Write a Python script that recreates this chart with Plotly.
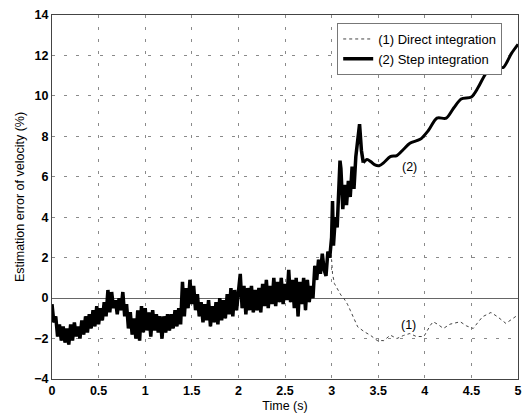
import plotly.graph_objects as go

# Shared response of both methods up to ~3 s (sampled every 0.02 s)
t_early = [round(0.02 * i, 2) for i in range(150)]
err_early = [
    -0.3, -1.2, -0.9, -1.9, -1.3, -2.1, -1.4, -2.2, -1.5, -2.3,
    -1.3, -2.1, -1.2, -1.9, -1.4, -2.0, -1.1, -1.8, -0.9, -1.7,
    -0.8, -1.5, -0.6, -1.4, -0.4, -1.3, -0.5, -1.1, -0.2, -0.9,
    0.4, -0.7, 0.3, -0.5, -0.1, -0.8, 0.0, -0.6, 0.3, -0.9,
    -0.3, -1.5, -0.7, -1.8, -1.0, -2.0, -0.6, -2.1, -0.4, -1.7,
    -0.5, -1.6, -0.7, -1.9, -0.6, -1.6, -0.8, -1.7, -0.9, -2.0,
    -0.9, -1.7, -0.8, -1.6, -0.8, -1.5, -0.6, -1.4, -0.5, -1.3,
    0.8, -0.9, 0.5, -0.5, 0.9, -0.3, 0.6, -0.6, 0.2, -0.9,
    -0.2, -1.2, -0.3, -1.1, -0.1, -1.4, -0.4, -1.2, -0.2, -1.3,
    0.0, -1.1, -0.1, -1.0, 0.2, -0.8, 0.5, -0.9, 0.4, -0.6,
    0.3, 1.2, -0.5, 0.6, -0.8, 0.5, -0.6, 0.6, -0.7, 0.4,
    -0.6, 0.5, -0.7, 0.7, -0.4, 0.9, -0.5, 0.6, -0.3, 1.0,
    -0.4, 0.8, -0.2, 1.0, -0.3, 0.7, -0.1, 1.4, -0.2, 0.9,
    -0.5, 1.0, -0.9, 0.8, -0.3, 1.0, -0.6, 0.9, -0.2, 0.6,
    0.0, 1.6, 0.9, 1.9, 1.2, 2.2, 1.4, 1.1, 2.3, 2.0,
]

# (2) Step integration: noisy rise after 3 s
t_step_rise = [3.00, 3.01, 3.02, 3.04, 3.06, 3.08, 3.09, 3.10, 3.12, 3.14,
               3.16, 3.18, 3.20, 3.22, 3.24, 3.26, 3.28, 3.30, 3.32, 3.34]
err_step_rise = [3.0, 4.8, 2.6, 4.0, 3.5, 5.3, 6.8, 6.4, 4.4, 5.6,
                 4.6, 5.8, 5.0, 6.5, 5.4, 7.0, 8.0, 8.6, 7.3, 6.7]

# (2) Step integration: smooth drift afterwards
t_step_drift = [3.34, 3.38, 3.42, 3.46, 3.51, 3.56, 3.63, 3.70, 3.77, 3.84,
                3.95, 4.04, 4.13, 4.23, 4.31, 4.39, 4.50, 4.57, 4.64, 4.73,
                4.79, 4.84, 4.93, 5.00]
err_step_drift = [6.7, 6.85, 6.75, 6.6, 6.55, 6.7, 7.0, 7.05, 7.35, 7.66,
                  7.85, 8.3, 8.9, 8.9, 9.4, 9.85, 9.95, 10.4, 11.0, 11.6,
                  11.5, 11.4, 12.1, 12.55]

# (1) Direct integration after 3 s
t_direct = [3.00, 3.01, 3.03, 3.06, 3.10, 3.13, 3.17, 3.20, 3.24, 3.28,
            3.35, 3.42, 3.49, 3.56, 3.63, 3.70, 3.77, 3.84, 3.91, 3.99,
            4.06, 4.09, 4.14, 4.20, 4.27, 4.33, 4.38, 4.45, 4.52, 4.57,
            4.62, 4.71, 4.78, 4.87, 4.94, 5.00]
err_direct = [1.9, 1.2, 0.72, 0.45, 0.15, 0.0, -0.3, -0.6, -1.0, -1.42,
              -1.66, -1.85, -2.1, -2.1, -1.83, -2.0, -1.85, -1.75, -1.9, -1.9,
              -1.34, -1.17, -1.3, -1.5, -1.29, -1.22, -1.17, -1.38, -1.5, -1.2,
              -0.92, -0.71, -0.92, -1.25, -1.0, -0.83]

x_ticks = [0, 0.5, 1, 1.5, 2, 2.5, 3, 3.5, 4, 4.5, 5]
x_tick_text = ["0", "0.5", "1", "1.5", "2", "2.5", "3", "3.5", "4", "4.5", "5"]
y_ticks = [-4, -2, 0, 2, 4, 6, 8, 10, 12, 14]

font_family = "Liberation Sans, Arial, sans-serif"

fig = go.Figure()
fig.add_trace(go.Scatter(
    x=t_early + t_direct, y=err_early + err_direct, mode="lines",
    name="(1) Direct integration",
    line=dict(color="#444444", width=1, dash="dot"),
))
fig.add_trace(go.Scatter(
    x=t_early + t_step_rise, y=err_early + err_step_rise, mode="lines",
    name="(2) Step integration", legendgroup="step",
    line=dict(color="black", width=3.5),
))
fig.add_trace(go.Scatter(
    x=t_step_drift, y=err_step_drift, mode="lines",
    name="(2) Step integration", legendgroup="step", showlegend=False,
    line=dict(color="black", width=3, shape="spline", smoothing=0.8),
))

fig.add_annotation(x=3.84, y=6.5, text="(2)", showarrow=False,
                   font=dict(size=12.5, color="black", family=font_family))
fig.add_annotation(x=3.82, y=-1.34, text="(1)", showarrow=False,
                   font=dict(size=12.5, color="black", family=font_family))

axis_common = dict(
    showline=True, linecolor="#444444", linewidth=1, mirror=True,
    showgrid=True, gridcolor="#8a8a8a", griddash="3px,9px", gridwidth=1,
    ticks="", ticklabeloverflow="allow", automargin=False,
    tickfont=dict(size=12.5, color="black", family=font_family, weight="bold"),
)

fig.update_xaxes(
    range=[0, 5], tickvals=x_ticks, ticktext=x_tick_text, zeroline=False,
    title=dict(text="Time (s)", font=dict(size=12.5, color="black", family=font_family), standoff=4),
    **axis_common,
)
fig.update_yaxes(
    range=[-4, 14], tickvals=y_ticks, zeroline=True, zerolinecolor="#666666", zerolinewidth=1,
    title=dict(text="Estimation error of velocity (%)",
               font=dict(size=12.5, color="black", family=font_family), standoff=6),
    **axis_common,
)

fig.update_layout(
    width=523, height=419,
    margin=dict(l=52, r=5, t=15, b=40),
    plot_bgcolor="white", paper_bgcolor="white",
    font=dict(family=font_family, color="black"),
    legend=dict(
        x=0.612, y=0.978, xanchor="left", yanchor="top",
        bgcolor="white", bordercolor="#777777", borderwidth=1,
        font=dict(size=13, color="black", family=font_family),
        itemwidth=30, tracegroupgap=0,
    ),
)

fig.write_html("out.html")
